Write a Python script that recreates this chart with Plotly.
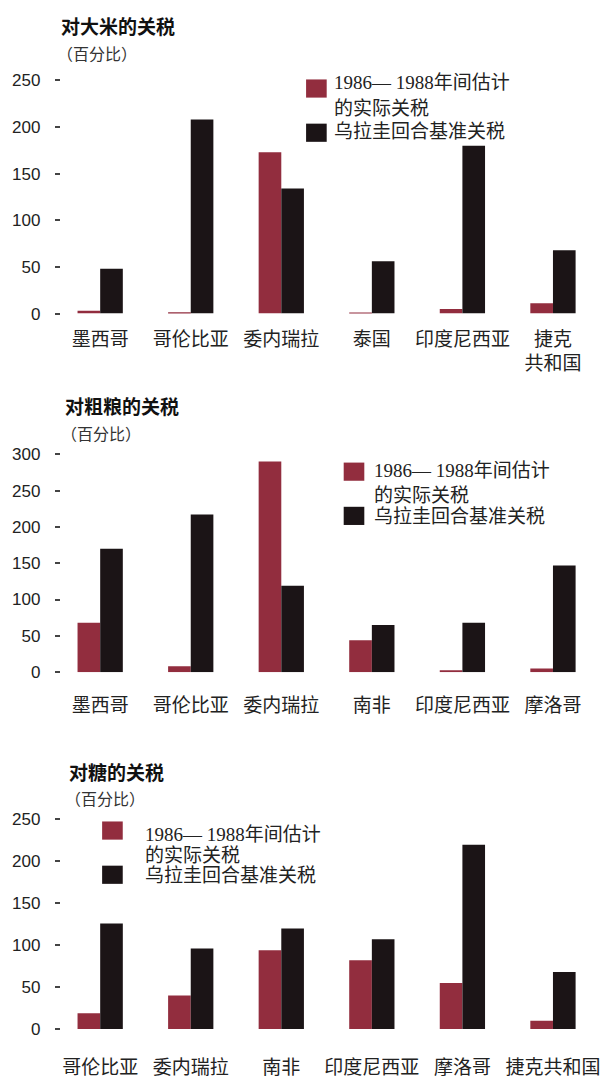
import plotly.graph_objects as go

W, H = 610, 1081

# ---- data -------------------------------------------------------------
rice_countries = ["墨西哥", "哥伦比亚", "委内瑞拉", "泰国", "印度尼西亚", "捷克<br>共和国"]
rice_actual = [3, 1.5, 173, 0.5, 5, 11]
rice_base = [48, 208, 134, 56, 180, 68]

grain_countries = ["墨西哥", "哥伦比亚", "委内瑞拉", "南非", "印度尼西亚", "摩洛哥"]
grain_actual = [68, 8, 290, 44, 2.5, 5]
grain_base = [170, 217, 119, 65, 68, 147]

sugar_countries = ["哥伦比亚", "委内瑞拉", "南非", "印度尼西亚", "摩洛哥", "捷克共和国"]
sugar_actual = [19, 40, 94, 82, 55, 10]
sugar_base = [126, 96, 120, 107, 220, 68]

titles = ["对大米的关税", "对粗粮的关税", "对糖的关税"]
unit_label = "（百分比）"
name_actual = "1986— 1988年间估计<br>的实际关税"
name_base = "乌拉圭回合基准关税"

RED = "#922d3e"
BLACK = "#1b1416"

SANS = "Liberation Sans, Arial, sans-serif"
CJK = "Noto Sans CJK SC"
SERIF_MIX = "Liberation Serif, Noto Sans CJK SC"


def px_x(x):
    return x / W


def px_y(y):
    return 1 - y / H


fig = go.Figure()

panels = [
    dict(cats=rice_countries, a=rice_actual, b=rice_base, yr=[0, 250],
         ybot=310.0, ytop=72.7, standoff=12),
    dict(cats=grain_countries, a=grain_actual, b=grain_base, yr=[0, 300],
         ybot=675.0, ytop=453.3, standoff=20),
    dict(cats=sugar_countries, a=sugar_actual, b=sugar_base, yr=[0, 250],
         ybot=1038.3, ytop=825.0, standoff=25),
]

layout_axes = {}
for i, p in enumerate(panels, start=1):
    sx = "" if i == 1 else str(i)
    fig.add_trace(go.Bar(x=p["cats"], y=p["a"], name="1986—1988年间估计的实际关税",
                         marker=dict(color=RED, line=dict(width=0)),
                         xaxis="x" + sx, yaxis="y" + sx, showlegend=False))
    fig.add_trace(go.Bar(x=p["cats"], y=p["b"], name=name_base,
                         marker=dict(color=BLACK, line=dict(width=0)),
                         xaxis="x" + sx, yaxis="y" + sx, showlegend=False))
    layout_axes["xaxis" + sx] = dict(
        domain=[px_x(62), px_x(600)], range=[-0.434, 5.40], type="category",
        anchor="y" + sx, showgrid=False, zeroline=False, showline=False,
        ticks="", tickangle=0, ticklabelstandoff=p["standoff"],
        tickfont=dict(family=CJK, size=19, color="#222"),
    )
    layout_axes["yaxis" + sx] = dict(
        domain=[px_y(p["ybot"]), px_y(p["ytop"])], range=p["yr"],
        anchor="x" + sx, dtick=50, showgrid=False, zeroline=False,
        showline=False, ticks="outside", ticklen=5, tickwidth=1.5,
        tickcolor="#444", ticklabelstandoff=11,
        tickfont=dict(family=SANS, size=17, color="#222"),
    )

fig.update_layout(**layout_axes)

annotations = []
shapes = []

# panel titles and units
title_pos = [(61, 17.0, 45.0), (65, 403.5, 431.5), (69, 776.5, 803.5)]
for t, (x0, yt, yu) in zip(titles, title_pos):
    annotations.append(dict(text="<b>" + t + "</b>", x=px_x(x0), y=px_y(yt),
                            xref="paper", yref="paper", xanchor="left",
                            yanchor="middle", showarrow=False, borderpad=0,
                            font=dict(family=CJK, size=19, color="#111")))
    annotations.append(dict(text=unit_label, x=px_x(x0 - 4), y=px_y(yu),
                            xref="paper", yref="paper", xanchor="left",
                            yanchor="middle", showarrow=False, borderpad=0,
                            font=dict(family=CJK, size=16, color="#333")))

# hand-placed legend blocks: (square left, red square top, black square top,
# text left, text line centres)
legend_pos = [
    (311.7, 71.7, 116.7, 339.3, (75.0, 101.7, 125.0)),
    (350.0, 461.7, 506.7, 380.0, (470.0, 495.0, 516.7)),
    (104.0, 827.0, 872.0, 146.7, (840.0, 861.7, 881.7)),
]
legend_lines = name_actual.split("<br>") + [name_base]
for (sx0, ry, by, tx, lines) in legend_pos:
    for top, col in ((ry, RED), (by, BLACK)):
        shapes.append(dict(type="rect", xref="paper", yref="paper",
                           x0=px_x(sx0), x1=px_x(sx0 + 21),
                           y0=px_y(top + 18.5), y1=px_y(top),
                           fillcolor=col, line=dict(width=0)))
    for txt, ly in zip(legend_lines, lines):
        annotations.append(dict(text=txt, x=px_x(tx), y=px_y(ly),
                                xref="paper", yref="paper", xanchor="left",
                                yanchor="middle", showarrow=False, borderpad=0,
                                font=dict(family=SERIF_MIX, size=19,
                                          color="#222")))

# baseline under the sugar panel
shapes.append(dict(type="line", xref="paper", yref="y3",
                   x0=px_x(53), x1=px_x(606), y0=-5, y1=-5,
                   line=dict(color="#a8a8a8", width=2)))

fig.update_layout(
    width=W, height=H,
    margin=dict(l=0, r=0, t=0, b=0),
    paper_bgcolor="white", plot_bgcolor="white",
    barmode="group", bargap=0.5, bargroupgap=0,
    annotations=annotations, shapes=shapes,
    showlegend=False,
)

fig.write_html("out.html")
